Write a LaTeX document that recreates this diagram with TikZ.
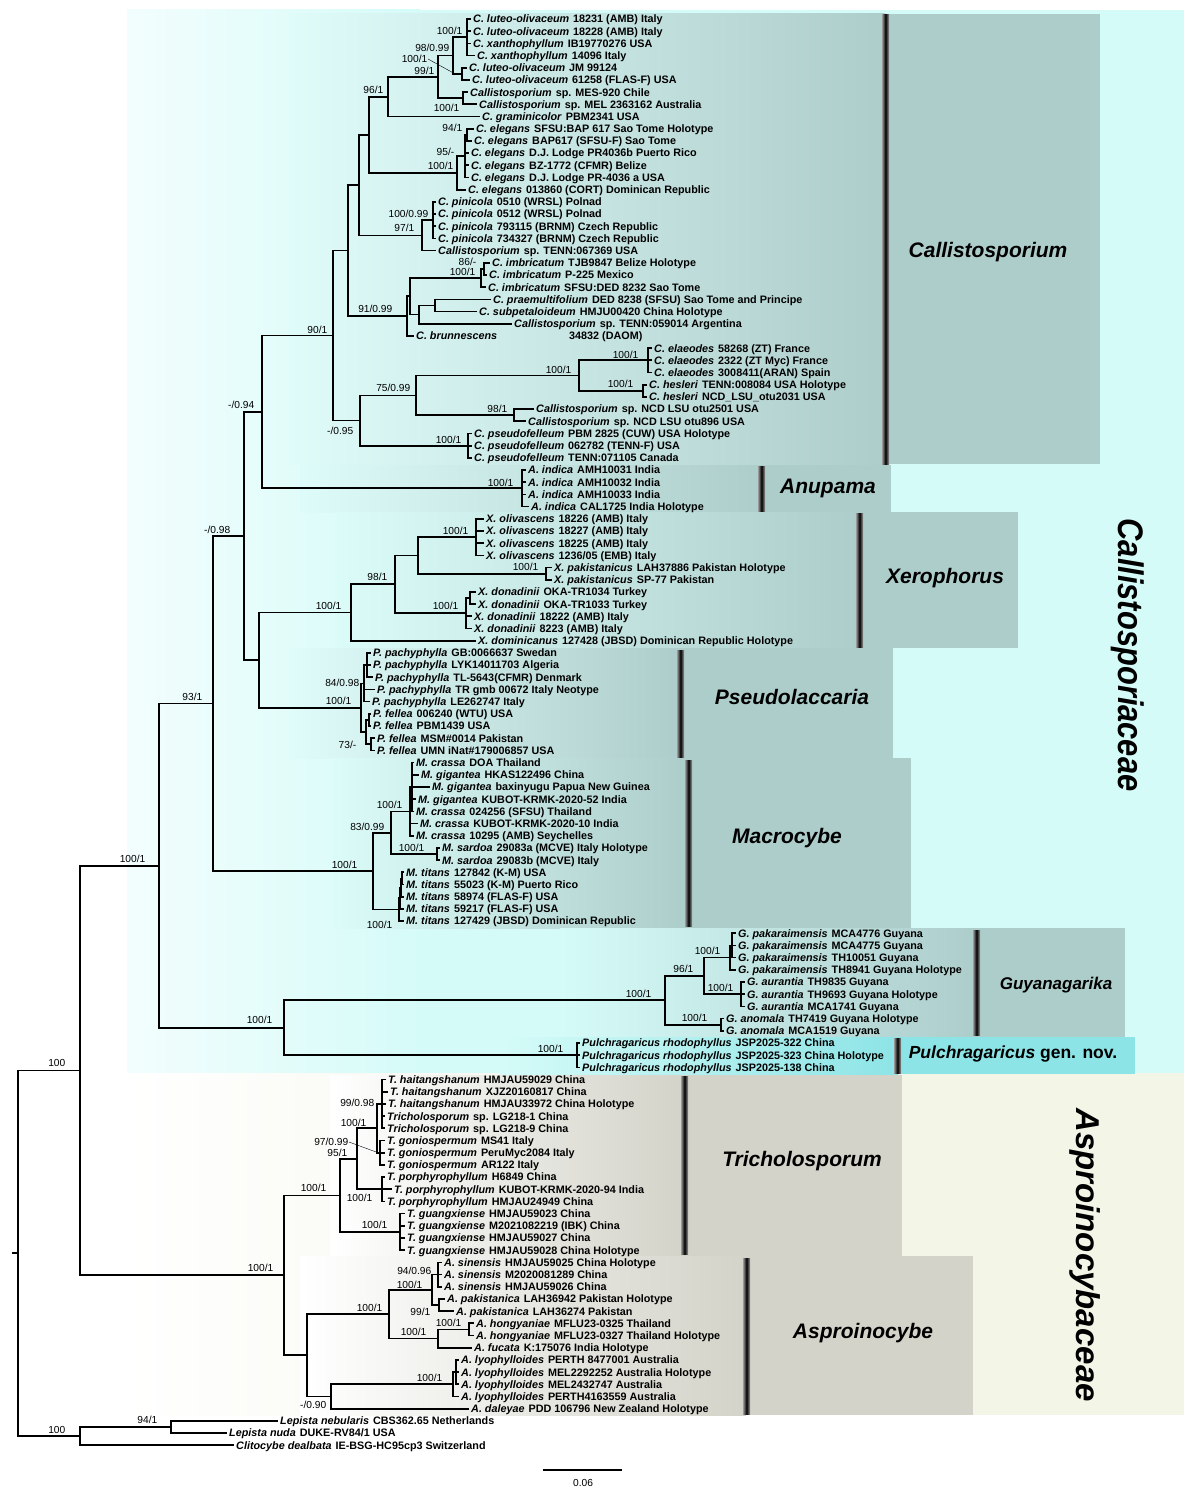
\documentclass[tikz,border=0pt]{standalone}
\usepackage{fontspec}
\setmainfont{Liberation Sans}
\usetikzlibrary{calc}

\definecolor{famcyan}{RGB}{213,251,248}
\definecolor{famcream}{RGB}{243,245,231}
\definecolor{genteal}{RGB}{173,205,203}
\definecolor{gengrey}{RGB}{211,211,201}
\definecolor{pulcyan}{RGB}{141,228,230}

% tip label at row #3, branch end at x=#2
\newcommand{\tip}[4]{\node[tiplab] (#1) at (#2,{19+(#3-1)*12.19}) {#4};}
% internal node at x=#2, halfway between first and last child
\newcommand{\inode}[4]{\path let \p1=(#3), \p2=(#4) in node[inode] (#1) at (#2pt,{(\y1+\y2)/2}) {};}
% elbow connectors from a node to each child
\newcommand{\br}[2]{\foreach \c in {#2}{\draw[branch] (#1.center) |- (\c.west);}}
\newcommand{\tl}[2]{\textit{#1}\hspace{4pt}#2}

\tikzset{
  branch/.style={line width=1.7pt},
  tiplab/.style={anchor=west, inner xsep=2pt, inner ysep=0pt, text height=7.8pt,
    text depth=0pt, font=\bfseries\fontsize{10.8}{11}\selectfont},
  inode/.style={inner sep=0pt, minimum size=0pt},
  bs/.style={anchor=east, inner sep=0.5pt, font=\fontsize{10.2}{11}\selectfont},
  clade/.style={font=\bfseries\itshape\fontsize{21}{24}\selectfont},
  genbar/.style={left color=black!40, right color=black!40, middle color=black},
}

\begin{document}
\begin{tikzpicture}[x=1pt,y=-1pt]
  \useasboundingbox (0,0) rectangle (1192,1496);

  % family backgrounds
  \shade[left color=famcyan!30, right color=famcyan] (127,10) rectangle (420,1073);
  \fill[famcyan] (420,10) rectangle (1184,1073);
  \shade[left color=white, right color=famcream] (127,1073) rectangle (700,1415);
  \fill[famcream] (700,1073) rectangle (1184,1415);

  % genus boxes
  \shade[left color=famcyan!75, right color=genteal] (288,14) rectangle (885,464);
  \fill[genteal] (885,14) rectangle (1100,464);
  \shade[left color=famcyan!80, right color=genteal] (300,465) rectangle (761,512);
  \fill[genteal] (761,465) rectangle (891,512);
  \shade[left color=famcyan!85, right color=genteal] (335,512) rectangle (859,648);
  \fill[genteal] (859,512) rectangle (1018,648);
  \shade[left color=famcyan!75, right color=genteal] (290,648) rectangle (680,758);
  \fill[genteal] (680,648) rectangle (893,758);
  \shade[left color=famcyan!85, right color=genteal] (333,758) rectangle (688,928);
  \fill[genteal] (688,758) rectangle (911,928);
  \shade[left color=famcyan, right color=genteal] (560,928) rectangle (977,1037);
  \fill[genteal] (977,928) rectangle (1125,1037);
  \shade[left color=famcyan, right color=pulcyan] (500,1037) rectangle (898,1074);
  \fill[pulcyan] (898,1037) rectangle (1135,1074);
  \shade[left color=white, right color=gengrey] (330,1075) rectangle (685,1256);
  \fill[gengrey] (685,1075) rectangle (902,1256);
  \shade[left color=white, right color=gengrey] (300,1256) rectangle (746,1415);
  \fill[gengrey] (746,1256) rectangle (973,1415);

  % genus bars
  \shade[genbar] (882,15) rectangle (889,464);
  \shade[genbar] (758,466) rectangle (765,511);
  \shade[genbar] (856,513) rectangle (863,647);
  \shade[genbar] (677,650) rectangle (684,757);
  \shade[genbar] (685,760) rectangle (692,926);
  \shade[genbar] (973,930) rectangle (980,1035);
  \shade[genbar] (894,1038) rectangle (901,1073);
  \shade[genbar] (681,1076) rectangle (688,1254);
  \shade[genbar] (743,1258) rectangle (750,1414);

  % tips: Callistosporium
  \tip{t1}{471}{1}{\tl{C. luteo-olivaceum}{18231 (AMB) Italy}}
  \tip{t2}{471}{2}{\tl{C. luteo-olivaceum}{18228 (AMB) Italy}}
  \tip{t3}{471}{3}{\tl{C. xanthophyllum}{IB19770276 USA}}
  \tip{t4}{475}{4}{\tl{C. xanthophyllum}{14096 Italy}}
  \tip{t5}{467}{5}{\tl{C. luteo-olivaceum}{JM 99124}}
  \tip{t6}{470}{6}{\tl{C. luteo-olivaceum}{61258 (FLAS-F) USA}}
  \tip{t7}{468}{7}{\tl{Callistosporium}{sp. MES-920 Chile}}
  \tip{t8}{477}{8}{\tl{Callistosporium}{sp. MEL 2363162 Australia}}
  \tip{t9}{480}{9}{\tl{C. graminicolor}{PBM2341 USA}}
  \tip{t10}{474}{10}{\tl{C. elegans}{SFSU:BAP 617 Sao Tome Holotype}}
  \tip{t11}{472}{11}{\tl{C. elegans}{BAP617 (SFSU-F) Sao Tome}}
  \tip{t12}{469}{12}{\tl{C. elegans}{D.J. Lodge PR4036b Puerto Rico}}
  \tip{t13}{469}{13}{\tl{C. elegans}{BZ-1772 (CFMR) Belize}}
  \tip{t14}{469}{14}{\tl{C. elegans}{D.J. Lodge PR-4036 a USA}}
  \tip{t15}{466}{15}{\tl{C. elegans}{013860 (CORT) Dominican Republic}}
  \tip{t16}{436}{16}{\tl{C. pinicola}{0510 (WRSL) Polnad}}
  \tip{t17}{436}{17}{\tl{C. pinicola}{0512 (WRSL) Polnad}}
  \tip{t18}{436}{18}{\tl{C. pinicola}{793115 (BRNM) Czech Republic}}
  \tip{t19}{436}{19}{\tl{C. pinicola}{734327 (BRNM) Czech Republic}}
  \tip{t20}{436}{20}{\tl{Callistosporium}{sp. TENN:067369 USA}}
  \tip{t21}{490}{21}{\tl{C. imbricatum}{TJB9847 Belize Holotype}}
  \tip{t22}{487}{22}{\tl{C. imbricatum}{P-225 Mexico}}
  \tip{t23}{486}{23}{\tl{C. imbricatum}{SFSU:DED 8232 Sao Tome}}
  \tip{t24}{491}{24}{\tl{C. praemultifolium}{DED 8238 (SFSU) Sao Tome and Principe}}
  \tip{t25}{477}{25}{\tl{C. subpetaloideum}{HMJU00420 China Holotype}}
  \tip{t26}{512}{26}{\tl{Callistosporium}{sp. TENN:059014 Argentina}}
  \tip{t27}{414}{27}{\makebox[153pt][l]{\textit{C. brunnescens}}34832 (DAOM)}
  \tip{t28}{652}{28}{\tl{C. elaeodes}{58268 (ZT) France}}
  \tip{t29}{652}{29}{\tl{C. elaeodes}{2322 (ZT Myc) France}}
  \tip{t30}{652}{30}{\tl{C. elaeodes}{3008411(ARAN) Spain}}
  \tip{t31}{647}{31}{\tl{C. hesleri}{TENN:008084 USA Holotype}}
  \tip{t32}{647}{32}{\tl{C. hesleri}{NCD\_LSU\_otu2031 USA}}
  \tip{t33}{534}{33}{\tl{Callistosporium}{sp. NCD LSU otu2501 USA}}
  \tip{t34}{526}{34}{\tl{Callistosporium}{sp. NCD LSU otu896 USA}}
  \tip{t35}{472}{35}{\tl{C. pseudofelleum}{PBM 2825 (CUW) USA Holotype}}
  \tip{t36}{472}{36}{\tl{C. pseudofelleum}{062782 (TENN-F) USA}}
  \tip{t37}{472}{37}{\tl{C. pseudofelleum}{TENN:071105 Canada}}
  % Anupama
  \tip{t38}{526}{38}{\tl{A. indica}{AMH10031 India}}
  \tip{t39}{526}{39}{\tl{A. indica}{AMH10032 India}}
  \tip{t40}{526}{40}{\tl{A. indica}{AMH10033 India}}
  \tip{t41}{529}{41}{\tl{A. indica}{CAL1725 India Holotype}}
  % Xerophorus
  \tip{t42}{484}{42}{\tl{X. olivascens}{18226 (AMB) Italy}}
  \tip{t43}{484}{43}{\tl{X. olivascens}{18227 (AMB) Italy}}
  \tip{t44}{484}{44}{\tl{X. olivascens}{18225 (AMB) Italy}}
  \tip{t45}{484}{45}{\tl{X. olivascens}{1236/05 (EMB) Italy}}
  \tip{t46}{552}{46}{\tl{X. pakistanicus}{LAH37886 Pakistan Holotype}}
  \tip{t47}{552}{47}{\tl{X. pakistanicus}{SP-77 Pakistan}}
  \tip{t48}{476}{48}{\tl{X. donadinii}{OKA-TR1034 Turkey}}
  \tip{t49}{476}{49}{\tl{X. donadinii}{OKA-TR1033 Turkey}}
  \tip{t50}{472}{50}{\tl{X. donadinii}{18222 (AMB) Italy}}
  \tip{t51}{472}{51}{\tl{X. donadinii}{8223 (AMB) Italy}}
  \tip{t52}{476}{52}{\tl{X. dominicanus}{127428 (JBSD) Dominican Republic Holotype}}
  % Pseudolaccaria
  \tip{t53}{371}{53}{\tl{P. pachyphylla}{GB:0066637 Swedan}}
  \tip{t54}{371}{54}{\tl{P. pachyphylla}{LYK14011703 Algeria}}
  \tip{t55}{373}{55}{\tl{P. pachyphylla}{TL-5643(CFMR) Denmark}}
  \tip{t56}{375}{56}{\tl{P. pachyphylla}{TR gmb 00672 Italy Neotype}}
  \tip{t57}{370}{57}{\tl{P. pachyphylla}{LE262747 Italy}}
  \tip{t58}{371}{58}{\tl{P. fellea}{006240 (WTU) USA}}
  \tip{t59}{371}{59}{\tl{P. fellea}{PBM1439 USA}}
  \tip{t60}{375}{60}{\tl{P. fellea}{MSM\#0014 Pakistan}}
  \tip{t61}{375}{61}{\tl{P. fellea}{UMN iNat\#179006857 USA}}
  % Macrocybe
  \tip{t62}{414}{62}{\tl{M. crassa}{DOA Thailand}}
  \tip{t63}{419}{63}{\tl{M. gigantea}{HKAS122496 China}}
  \tip{t64}{430}{64}{\tl{M. gigantea}{baxinyugu Papua New Guinea}}
  \tip{t65}{416}{65}{\tl{M. gigantea}{KUBOT-KRMK-2020-52 India}}
  \tip{t66}{414}{66}{\tl{M. crassa}{024256 (SFSU) Thailand}}
  \tip{t67}{418}{67}{\tl{M. crassa}{KUBOT-KRMK-2020-10 India}}
  \tip{t68}{414}{68}{\tl{M. crassa}{10295 (AMB) Seychelles}}
  \tip{t69}{440}{69}{\tl{M. sardoa}{29083a (MCVE) Italy Holotype}}
  \tip{t70}{440}{70}{\tl{M. sardoa}{29083b (MCVE) Italy}}
  \tip{t71}{404}{71}{\tl{M. titans}{127842 (K-M) USA}}
  \tip{t72}{404}{72}{\tl{M. titans}{55023 (K-M) Puerto Rico}}
  \tip{t73}{404}{73}{\tl{M. titans}{58974 (FLAS-F) USA}}
  \tip{t74}{404}{74}{\tl{M. titans}{59217 (FLAS-F) USA}}
  \tip{t75}{404}{75}{\tl{M. titans}{127429 (JBSD) Dominican Republic}}
  % Guyanagarika, Pulchragaricus
  \tip{t76}{736}{76}{\tl{G. pakaraimensis}{MCA4776 Guyana}}
  \tip{t77}{736}{77}{\tl{G. pakaraimensis}{MCA4775 Guyana}}
  \tip{t78}{736}{78}{\tl{G. pakaraimensis}{TH10051 Guyana}}
  \tip{t79}{736}{79}{\tl{G. pakaraimensis}{TH8941 Guyana Holotype}}
  \tip{t80}{745}{80}{\tl{G. aurantia}{TH9835 Guyana}}
  \tip{t81}{745}{81}{\tl{G. aurantia}{TH9693 Guyana Holotype}}
  \tip{t82}{745}{82}{\tl{G. aurantia}{MCA1741 Guyana}}
  \tip{t83}{724}{83}{\tl{G. anomala}{TH7419 Guyana Holotype}}
  \tip{t84}{724}{84}{\tl{G. anomala}{MCA1519 Guyana}}
  \tip{t85}{580}{85}{\tl{Pulchragaricus rhodophyllus}{JSP2025-322 China}}
  \tip{t86}{580}{86}{\tl{Pulchragaricus rhodophyllus}{JSP2025-323 China Holotype}}
  \tip{t87}{580}{87}{\tl{Pulchragaricus rhodophyllus}{JSP2025-138 China}}
  % Tricholosporum
  \tip{t88}{386}{88}{\tl{T. haitangshanum}{HMJAU59029 China}}
  \tip{t89}{388}{89}{\tl{T. haitangshanum}{XJZ20160817 China}}
  \tip{t90}{386}{90}{\tl{T. haitangshanum}{HMJAU33972 China Holotype}}
  \tip{t91}{385}{91}{\tl{Tricholosporum}{sp. LG218-1 China}}
  \tip{t92}{385}{92}{\tl{Tricholosporum}{sp. LG218-9 China}}
  \tip{t93}{385}{93}{\tl{T. goniospermum}{MS41 Italy}}
  \tip{t94}{385}{94}{\tl{T. goniospermum}{PeruMyc2084 Italy}}
  \tip{t95}{385}{95}{\tl{T. goniospermum}{AR122 Italy}}
  \tip{t96}{385}{96}{\tl{T. porphyrophyllum}{H6849 China}}
  \tip{t97}{392}{97}{\tl{T. porphyrophyllum}{KUBOT-KRMK-2020-94 India}}
  \tip{t98}{385}{98}{\tl{T. porphyrophyllum}{HMJAU24949 China}}
  \tip{t99}{405}{99}{\tl{T. guangxiense}{HMJAU59023 China}}
  \tip{t100}{405}{100}{\tl{T. guangxiense}{M2021082219 (IBK) China}}
  \tip{t101}{405}{101}{\tl{T. guangxiense}{HMJAU59027 China}}
  \tip{t102}{405}{102}{\tl{T. guangxiense}{HMJAU59028 China Holotype}}
  % Asproinocybe
  \tip{t103}{442}{103}{\tl{A. sinensis}{HMJAU59025 China Holotype}}
  \tip{t104}{442}{104}{\tl{A. sinensis}{M2020081289 China}}
  \tip{t105}{442}{105}{\tl{A. sinensis}{HMJAU59026 China}}
  \tip{t106}{445}{106}{\tl{A. pakistanica}{LAH36942 Pakistan Holotype}}
  \tip{t107}{454}{107}{\tl{A. pakistanica}{LAH36274 Pakistan}}
  \tip{t108}{474}{108}{\tl{A. hongyaniae}{MFLU23-0325 Thailand}}
  \tip{t109}{474}{109}{\tl{A. hongyaniae}{MFLU23-0327 Thailand Holotype}}
  \tip{t110}{472}{110}{\tl{A. fucata}{K:175076 India Holotype}}
  \tip{t111}{459}{111}{\tl{A. lyophylloides}{PERTH 8477001 Australia}}
  \tip{t112}{459}{112}{\tl{A. lyophylloides}{MEL2292252 Australia Holotype}}
  \tip{t113}{459}{113}{\tl{A. lyophylloides}{MEL2432747 Australia}}
  \tip{t114}{459}{114}{\tl{A. lyophylloides}{PERTH4163559 Australia}}
  \tip{t115}{469}{115}{\tl{A. daleyae}{PDD 106796 New Zealand Holotype}}
  % outgroup
  \tip{t116}{278}{116}{\tl{Lepista nebularis}{CBS362.65 Netherlands}}
  \tip{t117}{227}{117}{\tl{Lepista nuda}{DUKE-RV84/1 USA}}
  \tip{t118}{234}{118}{\tl{Clitocybe dealbata}{IE-BSG-HC95cp3 Switzerland}}

  % internal nodes, from the tips down to the root
  \inode{n1a}{467}{t1}{t4}    \br{n1a}{t1,t2,t3,t4}
  \inode{n1b}{462}{t5}{t6}    \br{n1b}{t5,t6}
  \inode{n1c}{453}{n1a}{n1b}  \br{n1c}{n1a,n1b}
  \inode{n1d}{463}{t7}{t8}    \br{n1d}{t7,t8}
  \inode{n1e}{438}{n1c}{n1d}  \br{n1e}{n1c,n1d}
  \inode{n1f}{388}{n1e}{t9}   \br{n1f}{n1e,t9}
  \inode{n2a}{467}{t10}{t11}  \br{n2a}{t10,t11}
  \inode{n2b}{465}{n2a}{t14}  \br{n2b}{n2a,t12,t13,t14}
  \inode{n2c}{457}{n2b}{t15}  \br{n2c}{n2b,t15}
  \inode{n2d}{369}{n1f}{n2c}  \br{n2d}{n1f,n2c}
  \inode{n3a}{433}{t16}{t19}  \br{n3a}{t16,t17,t18,t19}
  \inode{n3b}{422}{n3a}{t20}  \br{n3b}{n3a,t20}
  \inode{n3c}{359}{n2d}{n3b}  \br{n3c}{n2d,n3b}
  \inode{n4a}{484}{t21}{t22}  \br{n4a}{t21,t22}
  \inode{n4b}{481}{n4a}{t23}  \br{n4b}{n4a,t23}
  \inode{n4c}{435}{t24}{t25}  \br{n4c}{t24,t25}
  \inode{n4d}{419}{n4c}{t26}  \br{n4d}{n4c,t26}
  \inode{n4e}{410}{n4b}{n4d}  \br{n4e}{n4b,n4d}
  \inode{n4f}{407}{n4e}{t27}  \br{n4f}{n4e,t27}
  \inode{n4g}{348}{n3c}{n4f}  \br{n4g}{n3c,n4f}
  \inode{n5a}{648}{t28}{t30}  \br{n5a}{t28,t29,t30}
  \inode{n5b}{643}{t31}{t32}  \br{n5b}{t31,t32}
  \inode{n5c}{579}{n5a}{n5b}  \br{n5c}{n5a,n5b}
  \inode{n5d}{514}{t33}{t34}  \br{n5d}{t33,t34}
  \inode{n5e}{416}{n5c}{n5d}  \br{n5e}{n5c,n5d}
  \inode{n5f}{468}{t35}{t37}  \br{n5f}{t35,t36,t37}
  \inode{n5g}{360}{n5e}{n5f}  \br{n5g}{n5e,n5f}
  \inode{n6}{333}{n4g}{n5g}   \br{n6}{n4g,n5g}
  \inode{n7}{522}{t38}{t41}   \br{n7}{t38,t39,t40,t41}
  \inode{n8}{262}{n6}{n7}     \br{n8}{n6,n7}
  \inode{x1}{476}{t42}{t45}   \br{x1}{t42,t43,t44,t45}
  \inode{x2}{546}{t46}{t47}   \br{x2}{t46,t47}
  \inode{x3}{418}{x1}{x2}     \br{x3}{x1,x2}
  \inode{x4}{470}{t48}{t49}   \br{x4}{t48,t49}
  \inode{x5}{466}{x4}{t51}    \br{x5}{x4,t50,t51}
  \inode{x6}{395}{x3}{x5}     \br{x6}{x3,x5}
  \inode{x7}{351}{x6}{t52}    \br{x7}{x6,t52}
  \inode{p1}{367}{t53}{t55}   \br{p1}{t53,t54,t55}
  \inode{p2}{364}{p1}{t57}    \br{p2}{p1,t56,t57}
  \inode{p3}{369}{t58}{t59}   \br{p3}{t58,t59}
  \inode{p4}{371}{t60}{t61}   \br{p4}{t60,t61}
  \inode{p5}{366}{p3}{p4}     \br{p5}{p3,p4}
  \inode{p6}{361}{p2}{p5}     \br{p6}{p2,p5}
  \inode{n9}{259}{x7}{p6}     \br{n9}{x7,p6}
  \inode{n10}{244}{n8}{n9}    \br{n10}{n8,n9}
  \inode{m1}{412}{t62}{t66}   \br{m1}{t62,t63,t64,t65,t66}
  \inode{m2}{410}{m1}{t68}    \br{m2}{m1,t67,t68}
  \inode{m3}{437}{t69}{t70}   \br{m3}{t69,t70}
  \inode{m4}{391}{m2}{m3}     \br{m4}{m2,m3}
  \inode{m5}{402}{t71}{t72}   \br{m5}{t71,t72}
  \inode{m6}{401}{m5}{t73}    \br{m6}{m5,t73}
  \inode{m7}{400}{m6}{t74}    \br{m7}{m6,t74}
  \inode{m8}{399}{m7}{t75}    \br{m8}{m7,t75}
  \inode{m9}{373}{m4}{m8}     \br{m9}{m4,m8}
  \inode{n11}{213}{n10}{m9}   \br{n11}{n10,m9}
  \inode{g0}{732}{t76}{t78}   \br{g0}{t76,t77,t78}
  \inode{g1}{730}{g0}{t79}    \br{g1}{g0,t79}
  \inode{g2}{741}{t80}{t82}   \br{g2}{t80,t81,t82}
  \inode{g3}{704}{g1}{g2}     \br{g3}{g1,g2}
  \inode{g4}{721}{t83}{t84}   \br{g4}{t83,t84}
  \inode{g5}{665}{g3}{g4}     \br{g5}{g3,g4}
  \inode{g6}{577}{t85}{t87}   \br{g6}{t85,t86,t87}
  \inode{g7}{284}{g5}{g6}     \br{g7}{g5,g6}
  \inode{n12}{159}{n11}{g7}   \br{n12}{n11,g7}
  \inode{r1}{382}{t88}{t92}   \br{r1}{t88,t89,t90,t91,t92}
  \inode{r2}{380}{t93}{t95}   \br{r2}{t93,t94,t95}
  \inode{r3}{377}{r1}{r2}     \br{r3}{r1,r2}
  \inode{r4}{382}{t96}{t98}   \br{r4}{t96,t97,t98}
  \inode{r5}{357}{r3}{r4}     \br{r5}{r3,r4}
  \inode{r6}{400}{t99}{t102}  \br{r6}{t99,t100,t101,t102}
  \inode{r7}{340}{r5}{r6}     \br{r7}{r5,r6}
  \inode{a1}{438}{t103}{t105} \br{a1}{t103,t104,t105}
  \inode{a2}{439}{t106}{t107} \br{a2}{t106,t107}
  \inode{a3}{432}{a1}{a2}     \br{a3}{a1,a2}
  \inode{a4}{469}{t108}{t109} \br{a4}{t108,t109}
  \inode{a5}{438}{a4}{t110}   \br{a5}{a4,t110}
  \inode{a6}{389}{a3}{a5}     \br{a6}{a3,a5}
  \inode{a7}{456}{t111}{t113} \br{a7}{t111,t112,t113}
  \inode{a8}{453}{a7}{t114}   \br{a8}{a7,t114}
  \inode{a9}{331}{a8}{t115}   \br{a9}{a8,t115}
  \inode{a10}{307}{a6}{a9}    \br{a10}{a6,a9}
  \inode{a11}{284}{r7}{a10}   \br{a11}{r7,a10}
  \inode{n13}{80}{n12}{a11}   \br{n13}{n12,a11}
  \inode{o1}{171}{t116}{t117} \br{o1}{t116,t117}
  \inode{o2}{80}{o1}{t118}    \br{o2}{o1,t118}
  \inode{root}{18}{n13}{o2}   \br{root}{n13,o2}
  \draw[branch] (root.center) -- ([xshift=-6pt]root.center);

  % support values (right ends)
  \node[bs] (l-n1a) at (463,31) {100/1};
  \node[bs] (l-n1c) at (450,48) {98/0.99};
  \node[bs] (l-n1b) at (428,59) {100/1};
  \draw[thin] (l-n1b.east) -- ([xshift=-7pt]n1b.center);
  \node[bs] (l-n1e) at (435,71) {99/1};
  \node[bs] (l-n1f) at (384,90) {96/1};
  \node[bs] (l-n1d) at (460,108) {100/1};
  \node[bs] (l-n2a) at (463,128) {94/1};
  \node[bs] (l-n2b) at (455,152) {95/-};
  \node[bs] (l-n2c) at (454,166) {100/1};
  \node[bs] (l-n3a) at (429,214) {100/0.99};
  \node[bs] (l-n3b) at (415,228) {97/1};
  \node[bs] (l-n4a) at (477,262) {86/-};
  \node[bs] (l-n4b) at (476,272) {100/1};
  \node[bs] (l-n4f) at (393,309) {91/0.99};
  \node[bs] (l-n6) at (328,330) {90/1};
  \node[bs] (l-n5a) at (639,355) {100/1};
  \node[bs] (l-n5c) at (572,370) {100/1};
  \node[bs] (l-n5b) at (634,384) {100/1};
  \node[bs] (l-n5e) at (411,388) {75/0.99};
  \node[bs] (l-n5d) at (508,409) {98/1};
  \node[bs] (l-n5g) at (354,431) {-/0.95};
  \node[bs] (l-n5f) at (462,440) {100/1};
  \node[bs] (l-n8) at (255,405) {-/0.94};
  \node[bs] (l-n7) at (514,483) {100/1};
  \node[bs] (l-n10) at (231,530) {-/0.98};
  \node[bs] (l-x1) at (469,531) {100/1};
  \node[bs] (l-x2) at (539,567) {100/1};
  \node[bs] (l-x6) at (388,577) {98/1};
  \node[bs] (l-x7) at (342,606) {100/1};
  \node[bs] (l-x5) at (459,606) {100/1};
  \node[bs] (l-p2) at (360,683) {84/0.98};
  \node[bs] (l-p6) at (352,701) {100/1};
  \node[bs] (l-p4) at (357,745) {73/-};
  \node[bs] (l-n11) at (203,697) {93/1};
  \node[bs] (l-m9) at (358,865) {100/1};
  \node[bs] (l-m4) at (385,827) {83/0.99};
  \node[bs] (l-m2) at (403,805) {100/1};
  \node[bs] (l-m3) at (425,848) {100/1};
  \node[bs] (l-m8) at (393,925) {100/1};
  \node[bs] (l-n12) at (146,859) {100/1};
  \node[bs] (l-g1) at (721,951) {100/1};
  \node[bs] (l-g3) at (694,969) {96/1};
  \node[bs] (l-g2) at (734,988) {100/1};
  \node[bs] (l-g5) at (652,994) {100/1};
  \node[bs] (l-g4) at (708,1018) {100/1};
  \node[bs] (l-g6) at (564,1049) {100/1};
  \node[bs] (l-g7) at (273,1020) {100/1};
  \node[bs] (l-r1) at (375,1103) {99/0.98};
  \node[bs] (l-r3) at (367,1123) {100/1};
  \node[bs] (l-r2) at (349,1142) {97/0.99};
  \draw[thin] (l-r2.east) -- ([xshift=-2pt]r2.center);
  \node[bs] (l-r5) at (348,1153) {95/1};
  \node[bs] (l-r7) at (327,1188) {100/1};
  \node[bs] (l-r4) at (373,1198) {100/1};
  \node[bs] (l-r6) at (388,1225) {100/1};
  \node[bs] (l-a11) at (274,1268) {100/1};
  \node[bs] (l-a1) at (432,1271) {94/0.96};
  \node[bs] (l-a3) at (423,1285) {100/1};
  \node[bs] (l-a6) at (383,1308) {100/1};
  \node[bs] (l-a2) at (431,1312) {99/1};
  \node[bs] (l-a4) at (462,1323) {100/1};
  \node[bs] (l-a5) at (427,1332) {100/1};
  \node[bs] (l-a8) at (443,1378) {100/1};
  \node[bs] (l-a9) at (327,1405) {-/0.90};
  \node[bs] (l-n13) at (66,1063) {100};
  \node[bs] (l-o2) at (66,1430) {100};
  \node[bs] (l-o1) at (158,1420) {94/1};

  % genus and family names
  \node[clade] (c-call) at (988,252) {Callistosporium};
  \node[clade] (c-anup) at (828,488) {Anupama};
  \node[clade] (c-xero) at (945,578) {Xerophorus};
  \node[clade] (c-pseu) at (792,697) {Pseudolaccaria};
  \node[clade] (c-macr) at (787,838) {Macrocybe};
  \node[clade, font=\bfseries\itshape\fontsize{17}{20}\selectfont] (c-guya) at (1056,985) {Guyanagarika};
  \node[font=\bfseries\fontsize{17.5}{20}\selectfont] (c-pulc) at (1013,1054) {\textit{Pulchragaricus} gen. nov.};
  \node[clade] (c-tric) at (802,1161) {Tricholosporum};
  \node[clade] (c-aspr) at (863,1333) {Asproinocybe};
  \node[rotate=-90, font=\bfseries\itshape\fontsize{35.5}{38}\selectfont] (f-call) at (1128,655)
    {\scalebox{0.87}[1]{Callistosporiaceae}};
  \node[rotate=-90, font=\bfseries\itshape\fontsize{33}{36}\selectfont] (f-aspr) at (1085,1255)
    {Asproinocybaceae};

  % scale bar
  \coordinate (sb-l) at (543,1470);
  \coordinate (sb-r) at (622,1470);
  \draw[line width=1.3pt] (sb-l) -- (sb-r);
  \node[bs, anchor=center] (sb-lab) at (583,1483) {0.06};
\end{tikzpicture}
\end{document}
